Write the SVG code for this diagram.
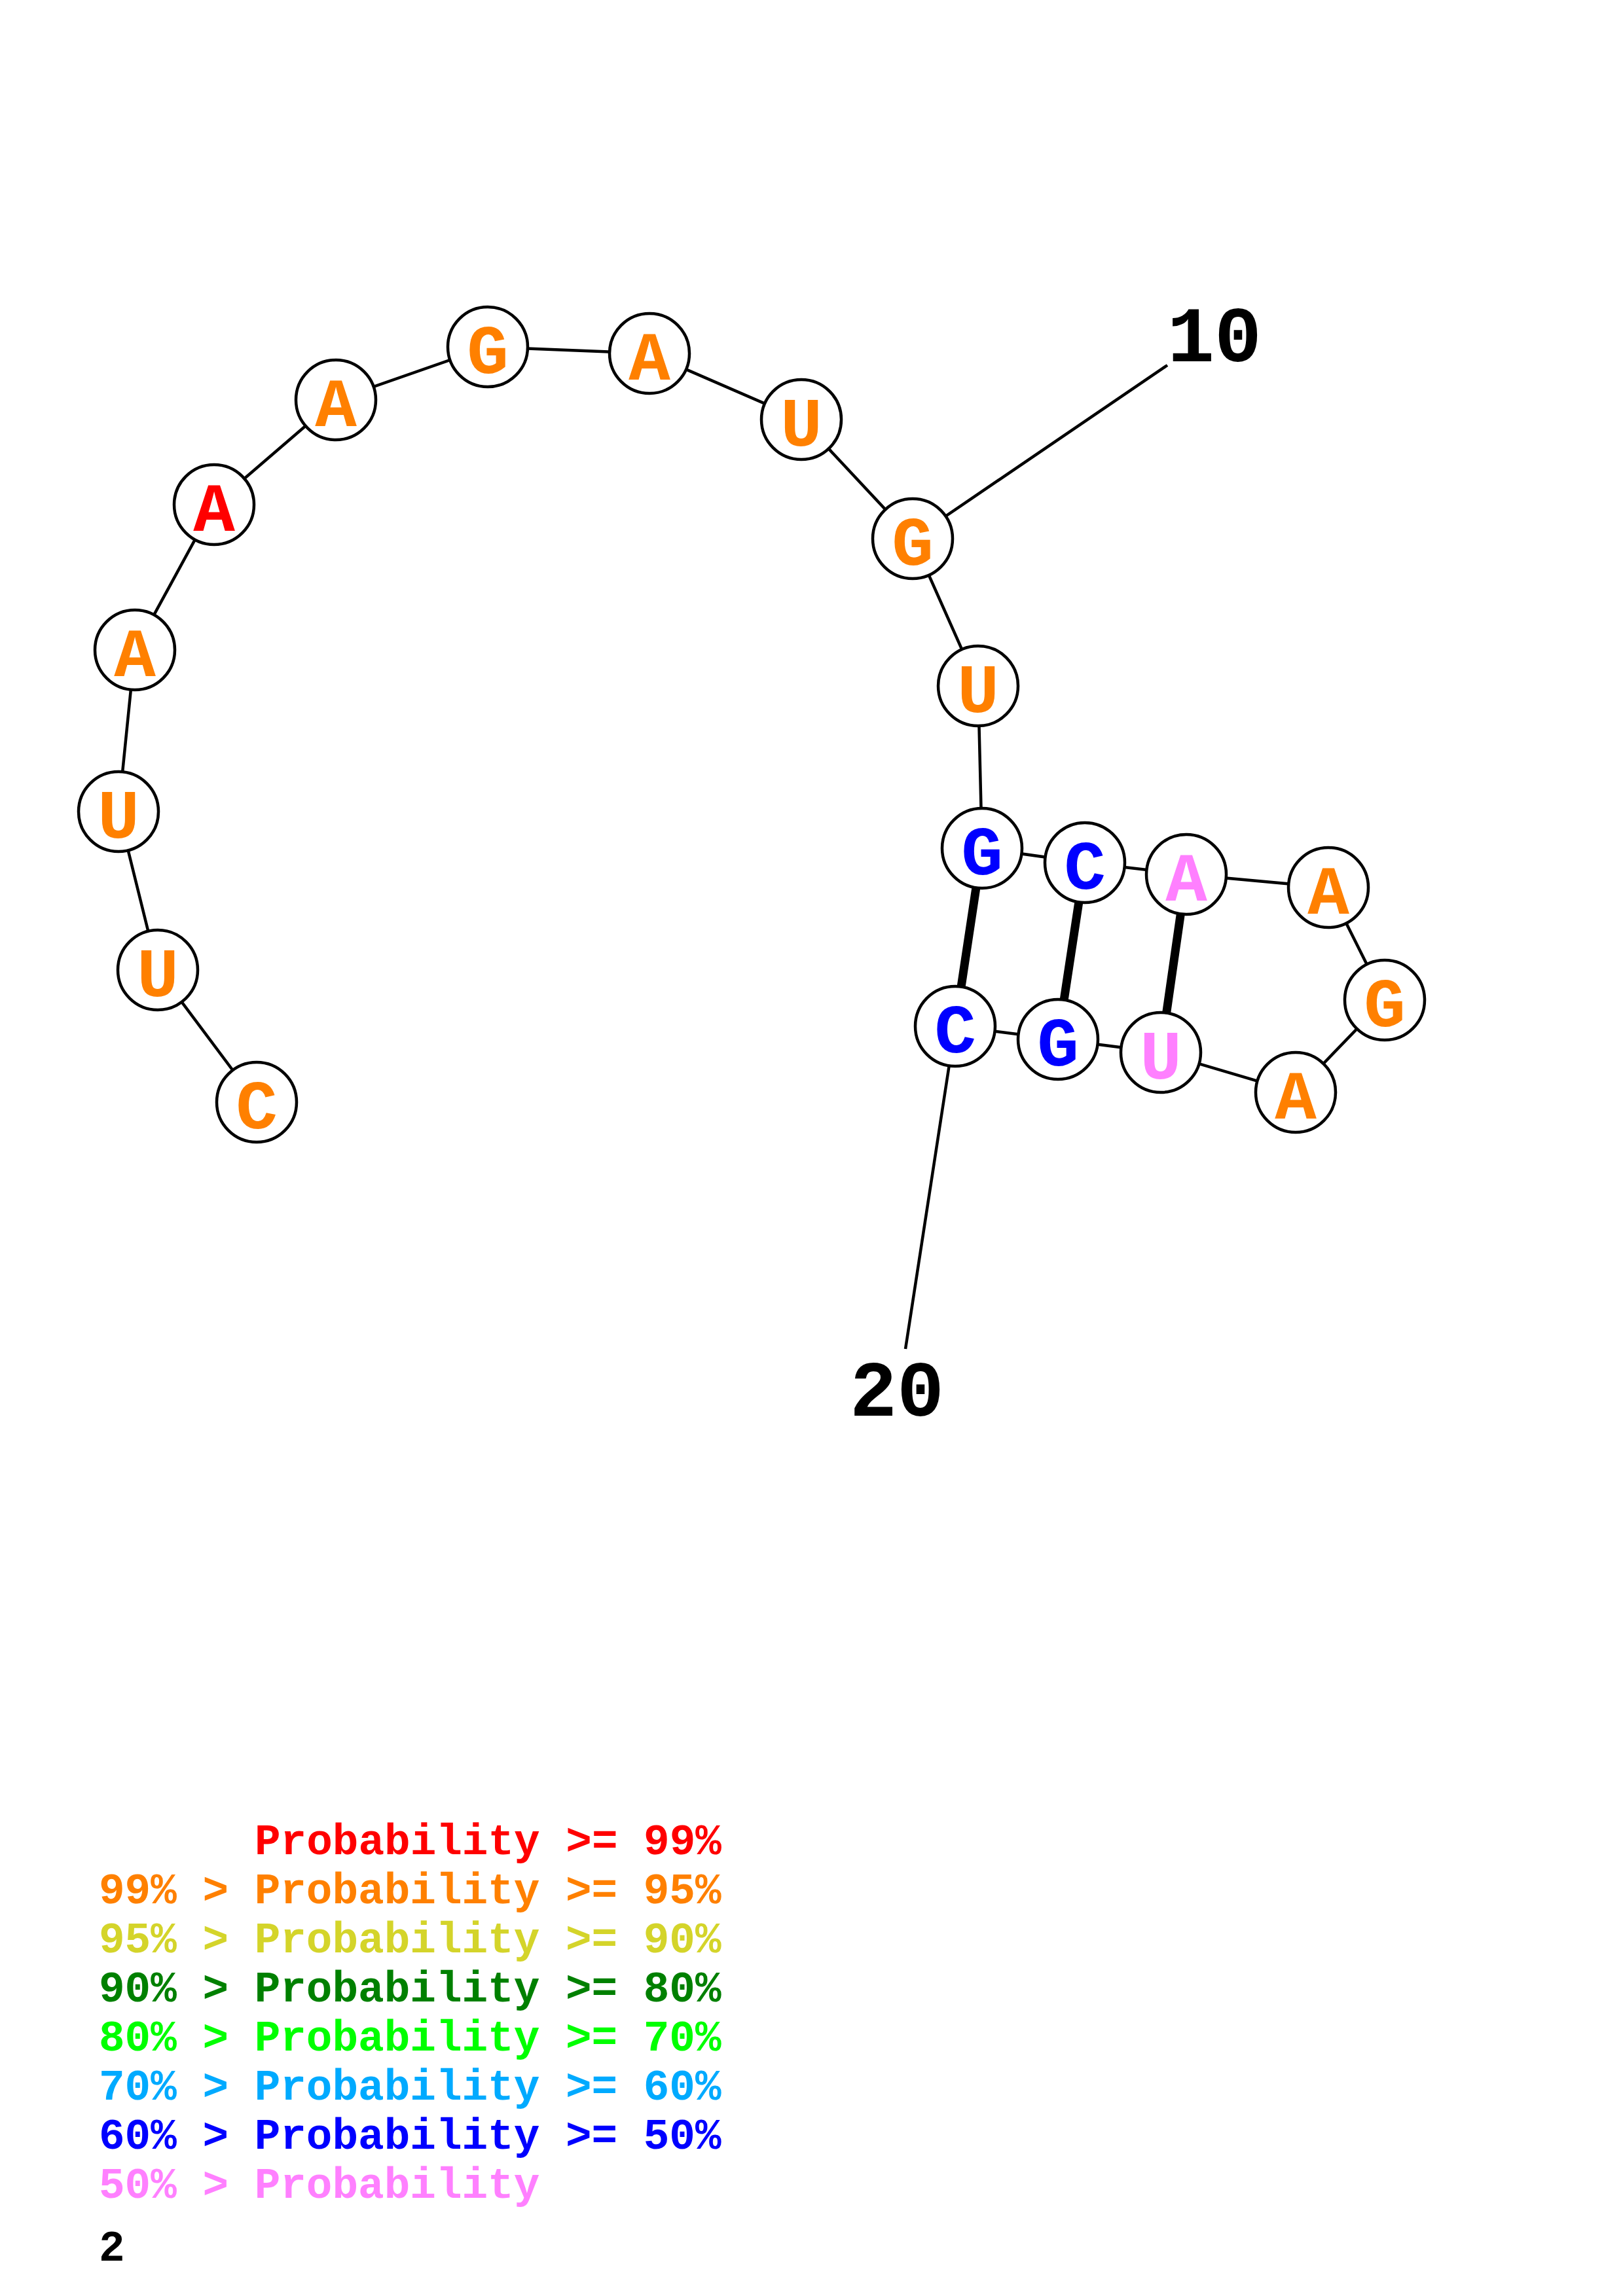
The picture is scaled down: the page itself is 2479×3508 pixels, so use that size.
<svg xmlns="http://www.w3.org/2000/svg" width="2479" height="3508" viewBox="0 0 2479 3508">
<style>
.bb{stroke:#000;stroke-width:4.5;fill:none}
.bp{stroke:#000;stroke-width:13;fill:none}
.nc{fill:#fff;stroke:#000;stroke-width:4.5}
.nt{font-family:"Liberation Mono","DejaVu Sans Mono",monospace;font-weight:bold;font-size:106px;text-anchor:middle}
.lb{font-family:"Liberation Mono","DejaVu Sans Mono",monospace;font-weight:bold;font-size:120px;text-anchor:middle;fill:#000}
.lg{font-family:"Liberation Mono","DejaVu Sans Mono",monospace;font-weight:bold;font-size:66px}
.p99{fill:#FF0000}.p95{fill:#FF8000}.p90{fill:#D4D42A}.p80{fill:#008000}.p70{fill:#00FF00}.p60{fill:#00AAFF}.p50{fill:#0000FF}.p0{fill:#FF80FF}
</style>
<rect width="2479" height="3508" fill="#fff"/>
<g id="connectors">
<polyline class="bb" points="392,1684 241,1482 181,1240 206,993 327,771 513,611 745,530 992,540 1224,641 1394,823 1494,1048 1500,1296 1657,1318 1812,1336 2029,1356 2115,1528 1979,1669 1773,1608 1616,1588 1459,1568"/>
<line class="bb" x1="1394" y1="823" x2="1783" y2="558"/>
<line class="bb" x1="1459" y1="1568" x2="1383" y2="2061"/>
<line class="bp" x1="1500" y1="1296" x2="1459" y2="1568"/>
<line class="bp" x1="1657" y1="1318" x2="1616" y2="1588"/>
<line class="bp" x1="1812" y1="1336" x2="1773" y2="1608"/>
</g>
<g id="n1"><circle class="nc" cx="392" cy="1684" r="61"/><text class="nt p95" x="392" y="1724">C</text></g>
<g id="n2"><circle class="nc" cx="241" cy="1482" r="61"/><text class="nt p95" x="241" y="1522">U</text></g>
<g id="n3"><circle class="nc" cx="181" cy="1240" r="61"/><text class="nt p95" x="181" y="1280">U</text></g>
<g id="n4"><circle class="nc" cx="206" cy="993" r="61"/><text class="nt p95" x="206" y="1033">A</text></g>
<g id="n5"><circle class="nc" cx="327" cy="771" r="61"/><text class="nt p99" x="327" y="811">A</text></g>
<g id="n6"><circle class="nc" cx="513" cy="611" r="61"/><text class="nt p95" x="513" y="651">A</text></g>
<g id="n7"><circle class="nc" cx="745" cy="530" r="61"/><text class="nt p95" x="745" y="570">G</text></g>
<g id="n8"><circle class="nc" cx="992" cy="540" r="61"/><text class="nt p95" x="992" y="580">A</text></g>
<g id="n9"><circle class="nc" cx="1224" cy="641" r="61"/><text class="nt p95" x="1224" y="681">U</text></g>
<g id="n10"><circle class="nc" cx="1394" cy="823" r="61"/><text class="nt p95" x="1394" y="863">G</text></g>
<g id="n11"><circle class="nc" cx="1494" cy="1048" r="61"/><text class="nt p95" x="1494" y="1088">U</text></g>
<g id="n12"><circle class="nc" cx="1500" cy="1296" r="61"/><text class="nt p50" x="1500" y="1336">G</text></g>
<g id="n13"><circle class="nc" cx="1657" cy="1318" r="61"/><text class="nt p50" x="1657" y="1358">C</text></g>
<g id="n14"><circle class="nc" cx="1812" cy="1336" r="61"/><text class="nt p0" x="1812" y="1376">A</text></g>
<g id="n15"><circle class="nc" cx="2029" cy="1356" r="61"/><text class="nt p95" x="2029" y="1396">A</text></g>
<g id="n16"><circle class="nc" cx="2115" cy="1528" r="61"/><text class="nt p95" x="2115" y="1568">G</text></g>
<g id="n17"><circle class="nc" cx="1979" cy="1669" r="61"/><text class="nt p95" x="1979" y="1709">A</text></g>
<g id="n18"><circle class="nc" cx="1773" cy="1608" r="61"/><text class="nt p0" x="1773" y="1648">U</text></g>
<g id="n19"><circle class="nc" cx="1616" cy="1588" r="61"/><text class="nt p50" x="1616" y="1628">G</text></g>
<g id="n20"><circle class="nc" cx="1459" cy="1568" r="61"/><text class="nt p50" x="1459" y="1608">C</text></g>
<g id="labels">
<text class="lb" x="1855" y="552">10</text>
<text class="lb" x="1370" y="2163">20</text>
</g>
<g id="legend">
<text class="lg p99" x="389" y="2833">Probability &gt;= 99%</text>
<text class="lg p95" x="151" y="2908">99% &gt; Probability &gt;= 95%</text>
<text class="lg p90" x="151" y="2983">95% &gt; Probability &gt;= 90%</text>
<text class="lg p80" x="151" y="3058">90% &gt; Probability &gt;= 80%</text>
<text class="lg p70" x="151" y="3133">80% &gt; Probability &gt;= 70%</text>
<text class="lg p60" x="151" y="3208">70% &gt; Probability &gt;= 60%</text>
<text class="lg p50" x="151" y="3283">60% &gt; Probability &gt;= 50%</text>
<text class="lg p0" x="151" y="3358">50% &gt; Probability</text>
<text class="lg" x="151" y="3454" fill="#000">2</text>
</g>
</svg>
